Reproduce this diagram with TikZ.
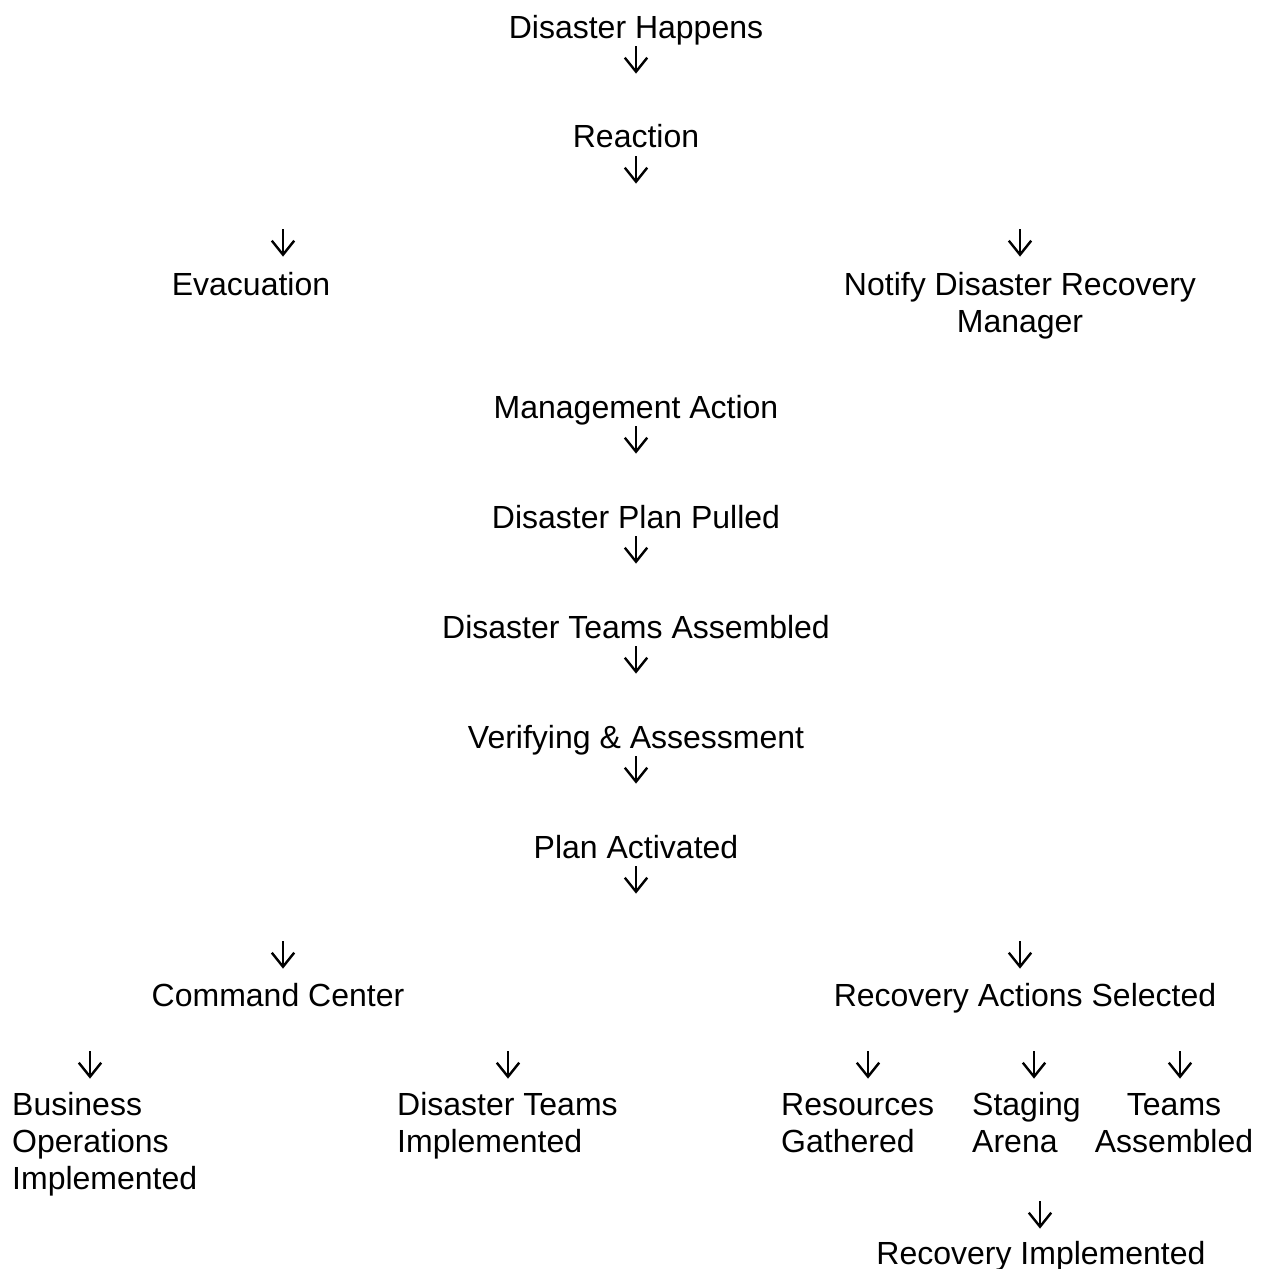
\documentclass[tikz,border=0pt]{standalone}
\usepackage{fontspec}
\setmainfont{Liberation Sans}
\begin{document}
\begin{tikzpicture}[x=1pt,y=-1pt,
  lbl/.style={inner sep=0pt,anchor=base,font=\fontsize{32}{37}\selectfont,align=center},
  lbll/.style={inner sep=0pt,anchor=base west,font=\fontsize{32}{37}\selectfont,align=left},
  arr/.style={inner sep=0pt,minimum width=22pt,minimum height=25pt,anchor=center},
  arrline/.style={line width=2.4pt,line join=miter,black}]
\useasboundingbox[fill=white] (0,0) rectangle (1263,1269);
\node[lbl] (dh) at (636,38) {Disaster Happens};
\node[arr] (a1) at (636,59) {};
\node[lbl] (re) at (636,147) {Reaction};
\node[arr] (a2) at (636,169) {};
\node[arr] (a3) at (283,242) {};
\node[lbl] (ev) at (251,295) {Evacuation};
\node[arr] (a4) at (1020,242) {};
\node[lbl] (nd) at (1020,332) {Notify Disaster Recovery\\Manager};
\node[lbl] (ma) at (636,418) {Management Action};
\node[arr] (a5) at (636,439) {};
\node[lbl] (dp) at (636,528) {Disaster Plan Pulled};
\node[arr] (a6) at (636,549) {};
\node[lbl] (dt) at (636,638) {Disaster Teams Assembled};
\node[arr] (a7) at (636,659) {};
\node[lbl] (va) at (636,748) {Verifying \& Assessment};
\node[arr] (a8) at (636,769) {};
\node[lbl] (pa) at (636,858) {Plan Activated};
\node[arr] (a9) at (636,879) {};
\node[arr] (a10) at (283,954) {};
\node[lbl] (cc) at (278,1006) {Command Center};
\node[arr] (a11) at (1020,954) {};
\node[lbl] (ra) at (1025,1006) {Recovery Actions Selected};
\node[arr] (a12) at (90,1064) {};
\node[lbll] (bo) at (12,1189) {Business\\Operations\\Implemented};
\node[arr] (a13) at (508,1064) {};
\node[lbll] (di) at (397,1152) {Disaster Teams\\Implemented};
\node[arr] (a14) at (868,1064) {};
\node[lbll] (rg) at (781,1152) {Resources\\Gathered};
\node[arr] (a15) at (1034,1064) {};
\node[lbll] (sa) at (972,1152) {Staging\\Arena};
\node[arr] (a16) at (1180,1064) {};
\node[lbl] (ta) at (1174,1152) {Teams\\Assembled};
\node[arr] (a17) at (1040,1214) {};
\node[lbl] (ri) at (1041,1264) {Recovery Implemented};
\foreach \n in {a1,a2,a3,a4,a5,a6,a7,a8,a9,a10,a11,a12,a13,a14,a15,a16,a17}{
  \draw[arrline] (\n.north) -- (\n.south);
  \draw[arrline] ([yshift=14pt]\n.south west) -- (\n.south) -- ([yshift=14pt]\n.south east);
}
\end{tikzpicture}
\end{document}
